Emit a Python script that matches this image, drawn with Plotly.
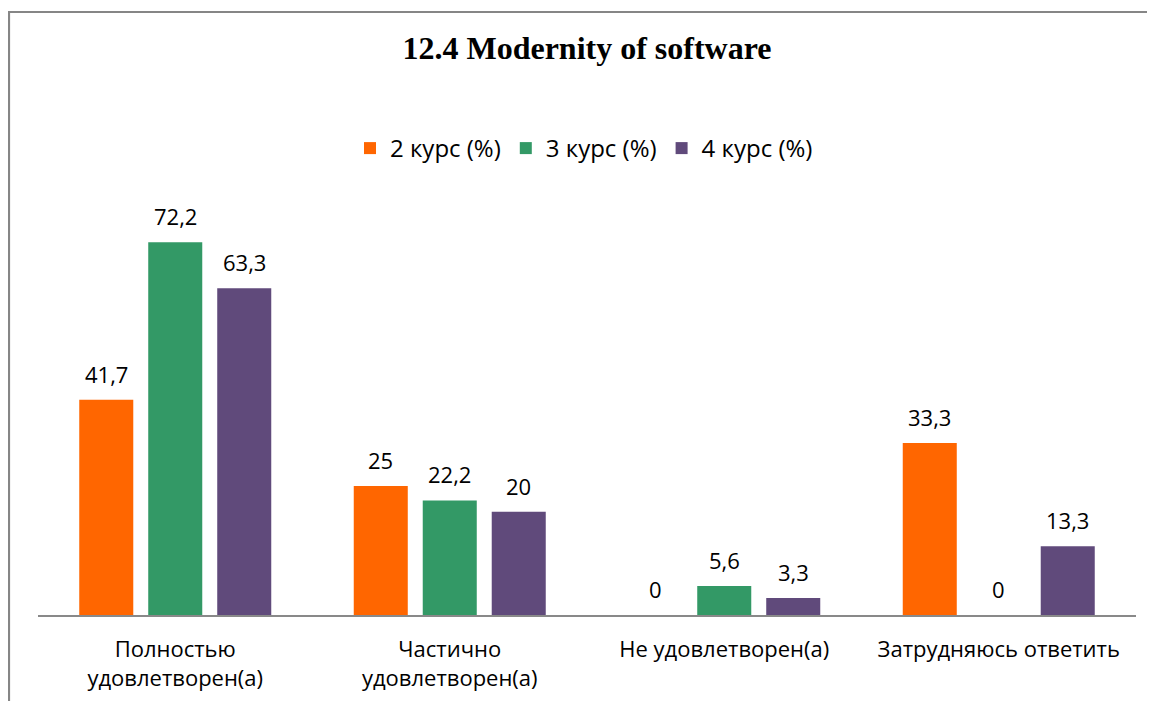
import plotly.graph_objects as go

categories = ["Полностью<br>удовлетворен(а)", "Частично<br>удовлетворен(а)", "Не удовлетворен(а)", "Затрудняюсь ответить"]
series_names = ["2 курс (%)", "3 курс (%)", "4 курс (%)"]
values_2 = [41.7, 25, 0, 33.3]
values_3 = [72.2, 22.2, 5.6, 0]
values_4 = [63.3, 20, 3.3, 13.3]
colors = ["#FF6600", "#339966", "#604A7B"]

# page body has an 8px margin; keep the figure inside the window
W, H = 1147, 693
ml, mr, mt, mb = 30, 19, 194, 86
pw, ph = W - ml - mr, H - mt - mb
axis_y = H - mb

fig = go.Figure()
all_vals = [values_2, values_3, values_4]
for name, vals, col in zip(series_names, all_vals, colors):
    fig.add_trace(go.Bar(x=categories, y=vals, name=name, marker=dict(color=col, line=dict(width=0))))

def fmt(v):
    return ("%g" % v).replace(".", ",")

font_family = "Open Sans, Liberation Sans, sans-serif"
bargap = 0.246
slot = pw / len(categories) * (1 - bargap) / 3
for i, vals in enumerate(all_vals):
    for c, v in zip(categories, vals):
        fig.add_annotation(x=c, y=v, text=fmt(v), showarrow=False, xshift=(i - 1) * slot,
                           yshift=26, font=dict(size=22, color="#000000", family=font_family))

# frame: left and top edges only
fx0 = (1 - ml) / pw
fx1 = (W - ml) / pw
fy_top = (axis_y - 4) / ph
fy_bot = (axis_y - H) / ph
frame_path = f"M {fx0},{fy_bot} L {fx0},{fy_top} L {fx1},{fy_top}"

fig.update_layout(
    width=W, height=H,
    margin=dict(l=ml, r=mr, t=mt, b=mb, autoexpand=False),
    paper_bgcolor="white", plot_bgcolor="white",
    barmode="group", bargap=bargap, bargroupgap=0.217,
    title=dict(text="<b>12.4 Modernity of software</b>", x=579 / W, xanchor="center",
               y=1 - 40 / H, yanchor="middle", yref="container",
               font=dict(family="Liberation Serif, Times New Roman, serif", size=32, color="#000000")),
    legend=dict(orientation="h", x=(576 - ml) / pw, xanchor="center",
                y=(axis_y - 140.5) / ph, yanchor="middle",
                font=dict(family=font_family, size=24, color="#000000"), traceorder="normal",
                itemwidth=30),
    showlegend=True,
    xaxis=dict(showline=True, linecolor="#898989", linewidth=2, ticks="", showgrid=False,
               tickangle=0, automargin=False,
               tickfont=dict(family=font_family, size=22, color="#000000"), ticklabelstandoff=14),
    yaxis=dict(range=[0, 80], visible=False, showgrid=False, zeroline=False),
    shapes=[
        dict(type="path", xref="paper", yref="paper", path=frame_path,
             fillcolor="rgba(0,0,0,0)", line=dict(color="#868686", width=2.2)),
    ],
)

fig.write_html("out.html")
